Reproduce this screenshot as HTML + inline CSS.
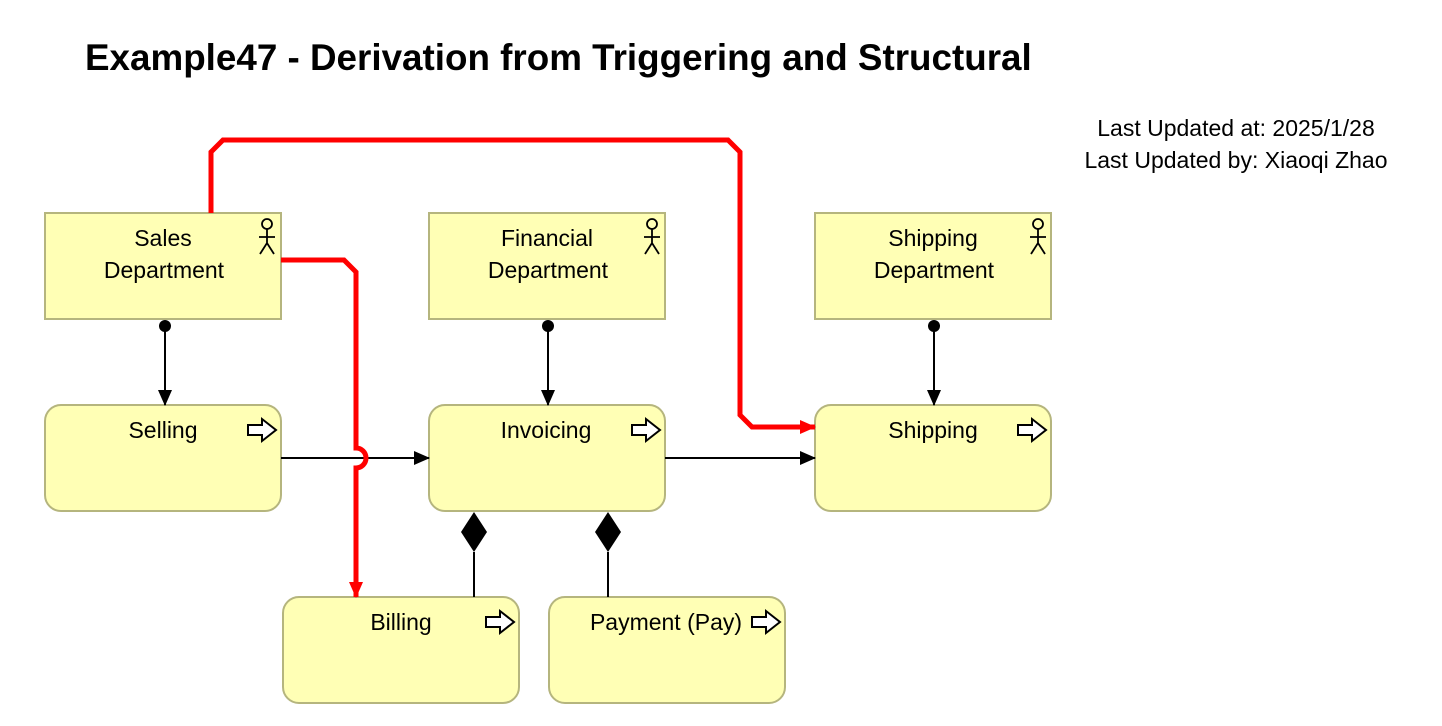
<!DOCTYPE html>
<html><head><style>body{margin:0;background:#fff}svg{display:block}</style></head><body>
<svg width="1442" height="726" xmlns="http://www.w3.org/2000/svg" font-family="Liberation Sans, sans-serif">
<defs>
<marker id="a" markerWidth="16" markerHeight="14" refX="15" refY="7" orient="auto" markerUnits="userSpaceOnUse"><path d="M0,0 L16,7 L0,14 Z" fill="#000"/></marker>
<marker id="r" markerWidth="16" markerHeight="14" refX="15" refY="7" orient="auto" markerUnits="userSpaceOnUse"><path d="M0,0 L16,7 L0,14 Z" fill="#f00"/></marker>
<g id="actor" fill="none" stroke="#000" stroke-width="1.8"><circle cx="0" cy="-13" r="5"/><path d="M0,-8 V6 M-8,0 H8 M-7,17 L0,6 L7,17"/></g>
<path id="proc" d="M-14,-5 H0 V-11 L14,0 L0,11 V5 H-14 Z" fill="#fff" stroke="#000" stroke-width="2"/>
</defs>
<text x="85" y="70" font-size="36.8" font-weight="bold">Example47 - Derivation from Triggering and Structural</text>
<text x="1236" y="136" font-size="23" text-anchor="middle">Last Updated at: 2025/1/28</text>
<text x="1236" y="168" font-size="23" text-anchor="middle">Last Updated by: Xiaoqi Zhao</text>
<g fill="#ffffb5" stroke="#b5b57e" stroke-width="2">
<rect x="45" y="213" width="236" height="106"/>
<rect x="429" y="213" width="236" height="106"/>
<rect x="815" y="213" width="236" height="106"/>
<rect x="45" y="405" width="236" height="106" rx="16"/>
<rect x="429" y="405" width="236" height="106" rx="16"/>
<rect x="815" y="405" width="236" height="106" rx="16"/>
<rect x="283" y="597" width="236" height="106" rx="16"/>
<rect x="549" y="597" width="236" height="106" rx="16"/>
</g>
<use href="#actor" x="267" y="237"/><use href="#actor" x="652" y="237"/><use href="#actor" x="1038" y="237"/>
<use href="#proc" x="262" y="430"/><use href="#proc" x="646" y="430"/><use href="#proc" x="1032" y="430"/><use href="#proc" x="500" y="622"/><use href="#proc" x="766" y="622"/>
<g font-size="23" text-anchor="middle">
<text x="163" y="246">Sales</text><text x="164" y="278">Department</text>
<text x="547" y="246">Financial</text><text x="548" y="278">Department</text>
<text x="933" y="246">Shipping</text><text x="934" y="278">Department</text>
<text x="163" y="438">Selling</text><text x="546" y="438">Invoicing</text><text x="933" y="438">Shipping</text>
<text x="401" y="630">Billing</text><text x="666" y="630">Payment (Pay)</text>
</g>
<g stroke="#000" stroke-width="2" fill="none">
<path d="M165,326 V405" marker-end="url(#a)"/>
<path d="M548,326 V405" marker-end="url(#a)"/>
<path d="M934,326 V405" marker-end="url(#a)"/>
<path d="M281,458 H429" marker-end="url(#a)"/>
<path d="M665,458 H815" marker-end="url(#a)"/>
<path d="M474,552 V597"/><path d="M608,552 V597"/>
</g>
<g fill="#000"><circle cx="165" cy="326" r="6"/><circle cx="548" cy="326" r="6"/><circle cx="934" cy="326" r="6"/>
<path d="M474,512 L487,532 L474,552 L461,532 Z"/><path d="M608,512 L621,532 L608,552 L595,532 Z"/></g>
<g stroke="#f00" stroke-width="5" fill="none">
<path d="M211,213 V152 L223,140 H728 L740,152 V415 L752,427 H815" marker-end="url(#r)"/>
<path d="M281,260 H344 L356,272 V448 A10,10 0 0 1 356,468 V597" marker-end="url(#r)"/>
</g>
</svg>
</body></html>
